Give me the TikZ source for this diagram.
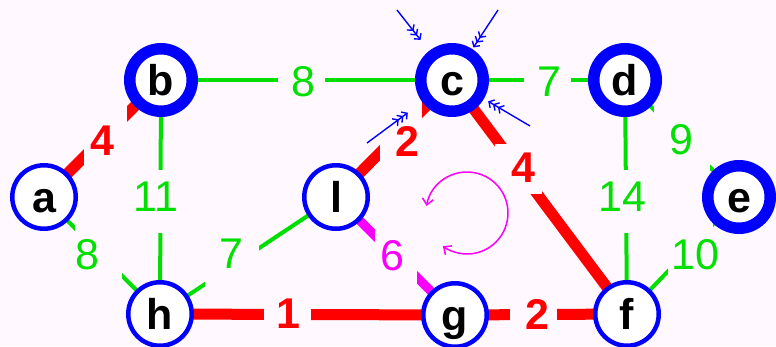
\documentclass[tikz,border=0pt]{standalone}
\usepackage{fontspec}
\setmainfont{Liberation Sans}
\usetikzlibrary{arrows.meta}
\pgfdeclarelayer{backdrop}
\pgfdeclarelayer{edges}
\pgfsetlayers{backdrop,edges,main}
\definecolor{bgpink}{RGB}{255,248,255}
\definecolor{nodeblue}{RGB}{0,0,255}
\definecolor{edgegreen}{RGB}{0,224,0}
\definecolor{edgered}{RGB}{255,0,0}
\definecolor{loopmag}{RGB}{250,0,250}
\begin{document}
\begin{tikzpicture}[x=1pt, y=-1pt,
  vertex/.style={circle, draw=nodeblue, fill=white, line width=4.5pt,
    minimum size=63.5pt, inner sep=0pt, text=black,
    font=\fontsize{43}{43}\selectfont\bfseries, text height=31pt, text depth=0pt},
  done/.style={vertex, line width=11.5pt, minimum size=62.5pt},
  greenedge/.style={draw=edgegreen, line width=4pt},
  treeedge/.style={draw=edgered, line width=11pt},
  cycleedge/.style={draw=loopmag, line width=9pt},
  gap/.style={fill=bgpink, inner sep=0pt, minimum width=47pt, minimum height=63pt},
  weight/.style={inner sep=0pt, font=\fontsize{43}{43}\selectfont},
  redweight/.style={weight, text=edgered, font=\fontsize{43}{43}\selectfont\bfseries},
  greenweight/.style={weight, text=edgegreen},
  probe/.style={draw=nodeblue, line width=1.4pt, -{Straight Barb[length=4pt,width=9pt] Straight Barb[length=4pt,width=9pt] Straight Barb[length=4pt,width=9pt]}},
]
\begin{pgfonlayer}{backdrop}
  \fill[bgpink] (0,0) rectangle (776,346);
\end{pgfonlayer}
\useasboundingbox (0,0) rectangle (776,346);

% vertices
\node[vertex] (a) at (44,197) {a};
\node[done]   (b) at (161,80) {b};
\node[done]   (c) at (452,80) {c};
\node[done]   (d) at (625,80) {d};
\node[done]   (e) at (739,197) {e};
\node[vertex] (l) at (336,197) {l};
\node[vertex] (h) at (160,314) {h};
\node[vertex] (g) at (455,315) {g};
\node[vertex] (f) at (627,314) {f};

% edges, each broken where its weight sits
\begin{pgfonlayer}{edges}
  \draw[greenedge] (b.center) -- (c.center) node[gap, pos=.483] (gbc) {};
  \draw[greenedge] (c.center) -- (d.center) node[gap, pos=.552] (gcd) {};
  \draw[greenedge] (d.center) -- (e.center) node[gap, pos=.5, minimum width=56pt] (gde) {};
  \draw[greenedge] (a.center) -- (h.center) node[gap, pos=.47, minimum width=47pt] (gah) {};
  \draw[greenedge] (b.center) -- (h.center) node[gap, pos=.52] (gbh) {};
  \draw[greenedge] (h.center) -- (l.center) node[gap, pos=.41, minimum width=54pt] (ghl) {};
  \draw[greenedge] (d.center) -- (f.center) node[gap, pos=.52] (gdf) {};
  \draw[greenedge] (e.center) -- (f.center) node[gap, pos=.435, minimum width=45pt] (gef) {};
  \draw[treeedge] (a.center) -- (b.center) node[gap, pos=.525, minimum width=43pt] (gab) {};
  \draw[treeedge] (c.center) -- (l.center) node[gap, pos=.44, minimum width=42pt] (gcl) {};
  \draw[treeedge] (c.center) -- (f.center) node[gap, pos=.38, minimum height=50pt] (gcf) {};
  \draw[treeedge] (h.center) -- (g.center) node[gap, pos=.432] (ghg) {};
  \draw[treeedge] (g.center) -- (f.center) node[gap, pos=.459] (ggf) {};
  \draw[cycleedge] (l.center) -- (g.center) node[gap, pos=.5, minimum width=42pt] (glg) {};
\end{pgfonlayer}

% weights
\node[greenweight] (wbc) at (303,82) {8};
\node[greenweight] (wcd) at (549,82) {7};
\node[greenweight] (wde) at (681,140) {9};
\node[greenweight] (wbh) at (156,197) {11};
\node[greenweight] (wah) at (87,255) {8};
\node[greenweight] (whl) at (231,254) {7};
\node[greenweight] (wdf) at (622,197) {14};
\node[greenweight] (wef) at (695,255) {10};
\node[redweight] (wab) at (102,141) {4};
\node[redweight] (wcl) at (407,141) {2};
\node[redweight] (wcf) at (523,168) {4};
\node[redweight] (whg) at (288,314) {1};
\node[redweight] (wgf) at (537,314) {2};
\node[weight, text=loopmag] (wlg) at (392,256) {6};

% probes converging on c
\coordinate (p1) at (397,10);
\coordinate (p2) at (498,10);
\coordinate (p3) at (530,126);
\coordinate (p4) at (367,143);
\draw[probe, shorten >=14pt] (p1) -- (c);
\draw[probe, shorten >=2pt]  (p2) -- (c);
\draw[probe, shorten >=5pt]  (p3) -- (c);
\draw[probe, shorten >=18pt] (p4) -- (c);

% cycle marker
\coordinate (o) at (467,213);
\draw[loopmag, line width=1.5pt, {Straight Barb[length=6pt,width=11pt]}-{Straight Barb[length=6pt,width=11pt]}]
  (o) ++(-170:41) arc[start angle=-170, end angle=126, radius=41];
\end{tikzpicture}
\end{document}
